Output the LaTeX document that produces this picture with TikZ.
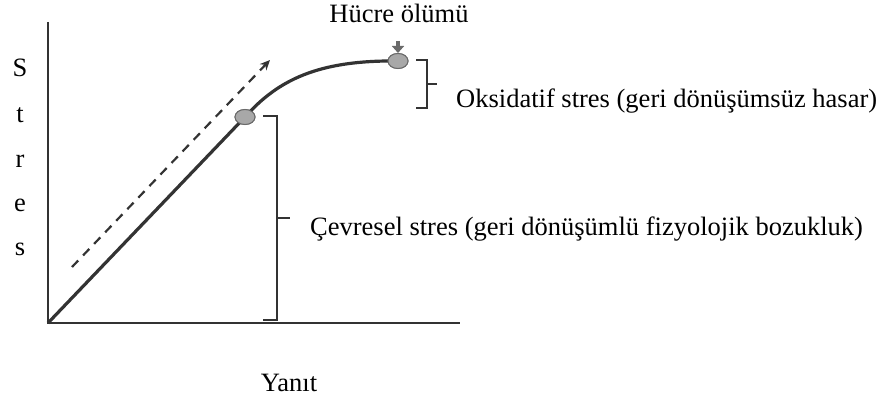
\documentclass[tikz,border=0pt]{standalone}
\usepackage{fontspec}
\setmainfont{Liberation Serif}
\usetikzlibrary{arrows.meta,shapes.geometric}
\definecolor{ln}{HTML}{333333}
\definecolor{dotfill}{HTML}{A8A8A8}
\definecolor{dotedge}{HTML}{6A6A6A}
\tikzset{
  axis/.style={draw=ln, line width=2.8pt},
  curve/.style={draw=ln, line width=3.2pt},
  brack/.style={draw=ln, line width=2.8pt},
  dotnode/.style={ellipse, draw=dotedge, fill=dotfill, line width=1pt, minimum width=20pt, minimum height=15pt, inner sep=0pt},
  lbl/.style={font=\fontsize{26.5}{30}\selectfont, inner sep=0pt},
}
\begin{document}
\begin{tikzpicture}[x=1pt,y=-1pt]
\useasboundingbox (0,0) rectangle (883,396);
% axes
\coordinate (O) at (48,323);
\coordinate (Ytop) at (48,22);
\coordinate (Xend) at (460,323);
\draw[axis] (Ytop) -- (O) -- (Xend);
% dots
\node[dotnode] (d1) at (245,117) {};
\node[dotnode] (d2) at (398,61) {};
% curve
\draw[curve] (O) -- (d1.center);
\draw[curve] (d1.center) .. controls (278,80) and (318,60) .. (d2.center);
\node[dotnode] at (245,117) {};
\node[dotnode] at (398,61) {};
% dashed arrow
\coordinate (da) at (72,267);
\coordinate (db) at (270,60);
\draw[draw=ln, line width=2.2pt, dash pattern=on 9pt off 7pt, -{Stealth[length=10pt,width=9pt]}] (da) -- (db);
% small arrow above d2
\coordinate (sa) at (398,41);
\draw[draw=dotedge, line width=4pt, -{Triangle[length=7pt,width=12pt]}] (sa) -- (d2.north);
% bracket 1
\coordinate (b1t) at (263,116);
\coordinate (b1b) at (263,320);
\draw[brack] (b1t) -- (277,116) -- (277,320) -- (b1b);
\coordinate (b1m) at (277,218);
\draw[brack] (b1m) -- ++(13,0);
% bracket 2
\coordinate (b2t) at (416,60);
\coordinate (b2b) at (416,108);
\draw[brack] (b2t) -- (427,60) -- (427,108) -- (b2b);
\coordinate (b2m) at (427,84);
\draw[brack] (b2m) -- ++(10,0);
% labels
\node[lbl, anchor=base] (hucre) at (399,23) {Hücre ölümü};
\node[lbl, anchor=base west] (oks) at (456,107) {Oksidatif stres (geri dönüşümsüz hasar)};
\node[lbl, anchor=base west] (cev) at (310,235) {Çevresel stres (geri dönüşümlü fizyolojik bozukluk)};
\node[lbl, anchor=base] (yanit) at (289,391) {Yanıt};
\node[lbl, anchor=base] (s1) at (20,76) {S};
\node[lbl, anchor=base] (s2) at (20,122) {t};
\node[lbl, anchor=base] (s3) at (20,167) {r};
\node[lbl, anchor=base] (s4) at (20,211) {e};
\node[lbl, anchor=base] (s5) at (20,255) {s};
\end{tikzpicture}
\end{document}
